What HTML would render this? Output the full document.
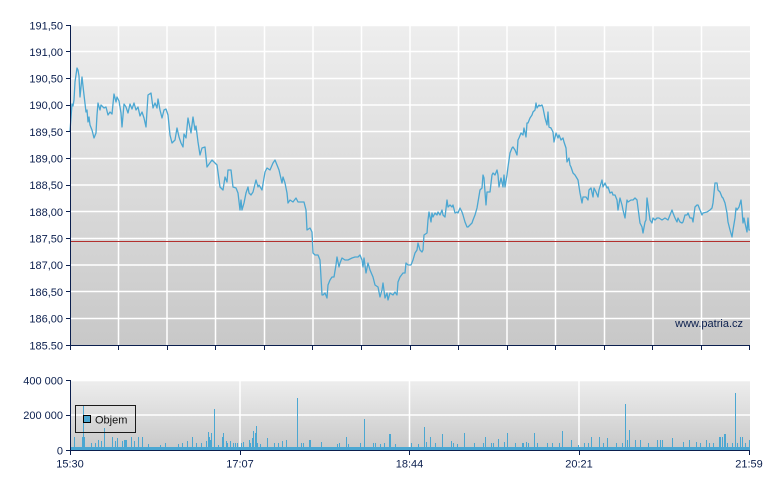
<!DOCTYPE html>
<html><head><meta charset="utf-8">
<style>
html,body{margin:0;padding:0;background:#fff;}
svg{display:block;}
text{font-family:"Liberation Sans",Arial,sans-serif;fill:#0b1f4e;}
</style></head><body>
<svg width="780" height="490" viewBox="0 0 780 490" xmlns="http://www.w3.org/2000/svg">
<defs>
<linearGradient id="g1" x1="0" y1="0" x2="0" y2="1">
<stop offset="0" stop-color="#eeeeee"/><stop offset="1" stop-color="#c8c8c8"/>
</linearGradient>
<linearGradient id="g2" x1="0" y1="0" x2="0" y2="1">
<stop offset="0" stop-color="#eeeeee"/><stop offset="1" stop-color="#c9c9c9"/>
</linearGradient>
</defs>
<!-- main plot -->
<rect x="70" y="25" width="680" height="320" fill="url(#g1)"/>
<g stroke="#ffffff" stroke-width="1.5">
<path d="M70 25.5H750M70 51.5H750M70 78.5H750M70 105H750M70 131.5H750M70 158.5H750M70 185H750M70 211.5H750M70 238.5H750M70 265H750M70 291.5H750M70 318.5H750"/>
<path d="M118.5 25V345M167 25V345M215.5 25V345M264.5 25V345M313 25V345M361.5 25V345M410 25V345M458.5 25V345M507 25V345M555.5 25V345M604.5 25V345M653 25V345M701.5 25V345"/>
</g>
<line x1="70" y1="241.5" x2="750" y2="241.5" stroke="#b3302e" stroke-width="1" shape-rendering="crispEdges"/>
<polyline fill="none" stroke="#4ba7d2" stroke-width="1.3" stroke-linejoin="round" points="70,131 72,104 73,106 74,100 75,82 76,75 77,68 78,70 79,76 80,97 82,77 84,95 86,112 87,110 88,122 89,117 90,125 92,130 94,138 96,133 97,115 98,103 100,110 101,105 104,108 106,107 108,115 110,112 112,114 114,94 116,102 117,97 119,101 121,113 122,127 124,104 126,107 128,113 130,104 132,109 134,103 136,110 138,107 140,116 142,112 144,118 146,127 148,95 151,93 153,108 155,103 157,108 158,99 160,110 162,118 164,110 166,109 168,115 170,135 172,143 175,140 177,128 179,137 181,143 183,147 184,134 186,138 188,118 190,128 191,133 193,117 195,130 196,126 198,142 200,155 202,148 205,147 207,167 212,160 217,165 220,187 223,190 225,177 227,182 228,170 231,170 233,187 236,188 238,193 240,210 241,200 242,210 244,203 246,193 248,187 249,193 251,195 253,192 256,180 258,187 259,185 262,190 265,172 267,168 270,170 273,163 275,160 277,165 279,170 282,183 283,177 285,183 287,193 288,203 290,200 293,202 296,198 298,202 302,202 304,202 306,210 307,230 310,228 312,232 313,253 315,255 318,255 320,260 322,295 323,295 325,293 327,298 328,285 330,280 332,277 334,277 336,265 337,257 339,267 340,263 342,258 345,260 348,260 352,258 355,257 358,257 360,255 362,260 363,267 364,258 366,273 368,263 370,270 373,277 375,285 378,287 380,297 382,290 383,283 385,298 387,293 388,300 390,293 393,295 395,292 397,295 398,282 400,277 403,273 405,273 406,263 408,265 411,265 413,260 415,253 417,250 418,243 420,250 422,252 423,250 424,235 427,233 428,220 429,212 431,222 432,213 433,217 435,213 437,215 438,212 440,215 442,210 443,215 445,217 447,200 448,207 450,205 452,207 453,205 455,213 457,212 458,213 460,208 462,212 463,215 465,222 467,227 468,227 470,225 472,223 473,220 475,215 477,208 478,202 480,190 482,188 483,175 484,178 485,192 486,205 487,192 490,192 492,175 493,173 495,175 497,170 498,175 499,187 501,178 503,187 504,175 505,187 507,175 508,167 510,153 512,148 513,147 515,150 517,155 518,140 519,138 521,133 523,135 524,128 526,137 527,123 528,123 530,118 532,115 533,112 535,110 536,103 537,108 539,105 540,106 542,105 543,108 545,118 547,125 548,112 549,127 551,128 553,132 554,142 556,133 558,138 559,135 561,140 563,138 564,142 566,148 567,162 569,158 570,165 571,167 573,173 575,175 578,180 580,193 582,203 583,197 586,197 588,200 589,190 591,188 593,197 594,188 596,192 598,197 599,190 602,180 603,187 605,183 607,188 608,187 610,193 612,192 613,195 615,195 617,200 618,210 620,198 622,205 623,210 625,218 627,200 628,202 631,200 633,200 635,198 637,200 638,208 640,223 642,227 643,233 645,222 646,220 647,198 648,205 650,220 652,223 653,218 655,220 657,218 659,218 662,220 665,218 668,220 670,215 672,210 673,213 675,218 677,222 678,218 680,222 682,223 683,222 685,215 687,215 688,213 690,218 692,218 693,222 695,207 697,205 698,205 700,210 702,215 703,213 707,212 710,210 712,208 713,203 715,183 717,183 718,190 720,192 722,197 723,198 725,203 727,213 728,222 730,230 732,237 733,230 735,218 736,208 737,210 739,207 741,200 742,210 743,223 744,218 745,223 747,232 748,218 749,230 750,230"/>
<!-- axes main -->
<g stroke="#0b1f4e" stroke-width="1" fill="none" shape-rendering="crispEdges">
<path d="M70.5 25V345.5H750"/>
<path d="M66 25.5H70M66 51.5H70M66 78.5H70M66 105.5H70M66 131.5H70M66 158.5H70M66 185.5H70M66 211.5H70M66 238.5H70M66 265.5H70M66 291.5H70M66 318.5H70M66 345.5H70"/>
<path d="M70.5 345V350M118.5 345V350M167.5 345V350M215.5 345V350M264.5 345V350M312.5 345V350M361.5 345V350M410.5 345V350M458.5 345V350M507.5 345V350M555.5 345V350M604.5 345V350M652.5 345V350M701.5 345V350M749.5 345V350"/>
</g>
<g font-size="11" text-anchor="end">
<text x="63" y="29.5">191,50</text>
<text x="63" y="56">191,00</text>
<text x="63" y="82.5">190,50</text>
<text x="63" y="109">190,00</text>
<text x="63" y="136">189,50</text>
<text x="63" y="162.5">189,00</text>
<text x="63" y="189">188,50</text>
<text x="63" y="216">188,00</text>
<text x="63" y="242.5">187,50</text>
<text x="63" y="269">187,00</text>
<text x="63" y="296">186,50</text>
<text x="63" y="322.5">186,00</text>
<text x="63" y="349.5">185.50</text>
</g>
<text x="743" y="327" font-size="11" text-anchor="end">www.patria.cz</text>

<!-- volume plot -->
<rect x="70" y="380" width="680" height="70" fill="url(#g2)"/>
<g stroke="#ffffff" stroke-width="1.5">
<path d="M70 380.5H750M70 415H750M240 380V450M409.5 380V450M579 380V450"/>
</g>
<rect x="70" y="447" width="680" height="3" fill="#4ba7d2"/>
<path stroke="#4ba7d2" stroke-width="1" fill="none" shape-rendering="crispEdges" d="M74.5 450V437M82.5 450V437M83.5 450V405M84.5 450V437M91.5 450V443M95.5 450V443M98.5 450V440M101.5 450V441M104.5 450V428M112.5 450V437M115.5 450V441M117.5 450V438M122.5 450V441M124.5 450V440M125.5 450V440M126.5 450V440M131.5 450V437M134.5 450V441M138.5 450V437M142.5 450V437M148.5 450V444M160.5 450V445M165.5 450V443M178.5 450V444M182.5 450V443M187.5 450V441M192.5 450V437M196.5 450V443M201.5 450V443M206.5 450V441M208.5 450V432M210.5 450V440M209.5 450V437M211.5 450V433M214.5 450V409M218.5 450V445M222.5 450V437M223.5 450V433M226.5 450V441M227.5 450V443M230.5 450V441M233.5 450V443M235.5 450V443M237.5 450V443M241.5 450V443M243.5 450V442M249.5 450V440M250.5 450V443M252.5 450V438M253.5 450V431M255.5 450V433M256.5 450V426M257.5 450V443M260.5 450V444M267.5 450V438M274.5 450V443M278.5 450V443M282.5 450V441M286.5 450V440M297.5 450V398M301.5 450V443M303.5 450V443M309.5 450V440M310.5 450V440M321.5 450V442M337.5 450V444M339.5 450V443M346.5 450V437M348.5 450V444M360.5 450V443M364.5 450V419M373.5 450V443M375.5 450V443M380.5 450V444M384.5 450V443M389.5 450V434M390.5 450V434M395.5 450V444M411.5 450V443M418.5 450V444M424.5 450V427M426.5 450V442M430.5 450V437M435.5 450V443M442.5 450V434M451.5 450V441M453.5 450V443M457.5 450V444M464.5 450V433M474.5 450V443M483.5 450V443M485.5 450V437M491.5 450V443M493.5 450V443M498.5 450V439M504.5 450V442M507.5 450V433M515.5 450V443M522.5 450V443M523.5 450V443M526.5 450V442M528.5 450V443M534.5 450V433M537.5 450V443M547.5 450V443M552.5 450V443M559.5 450V443M562.5 450V431M571.5 450V440M578.5 450V445M584.5 450V443M588.5 450V443M591.5 450V437M599.5 450V437M603.5 450V443M607.5 450V438M616.5 450V443M622.5 450V443M625.5 450V404M627.5 450V440M629.5 450V430M635.5 450V440M640.5 450V440M648.5 450V443M657.5 450V440M660.5 450V440M662.5 450V440M672.5 450V438M683.5 450V442M689.5 450V440M696.5 450V442M700.5 450V443M706.5 450V440M709.5 450V443M713.5 450V443M719.5 450V437M720.5 450V437M722.5 450V437M724.5 450V434M725.5 450V434M727.5 450V443M732.5 450V443M735.5 450V393M737.5 450V443M740.5 450V437M742.5 450V437M745.5 450V443M749.5 450V440"/>
<!-- legend -->
<rect x="75.5" y="405.5" width="60" height="27" fill="none" stroke="#1a1a1a" stroke-width="1"/>
<rect x="83.5" y="415.5" width="7" height="7" fill="#4ba7d2" stroke="#000" stroke-width="1"/>
<text x="95" y="423.5" font-size="11" style="fill:#111">Objem</text>
<!-- axes volume -->
<g stroke="#0b1f4e" stroke-width="1" fill="none" shape-rendering="crispEdges">
<path d="M70.5 380V450.5H750"/>
<path d="M66 380.5H70M66 415.5H70M66 450.5H70"/>
<path d="M70.5 450V455M240.5 450V455M409.5 450V455M579.5 450V455M749.5 450V455"/>
</g>
<g font-size="11" text-anchor="end">
<text x="63" y="384.5">400 000</text>
<text x="63" y="419">200 000</text>
<text x="63" y="454.5">0</text>
</g>
<g font-size="11" text-anchor="middle">
<text x="70" y="467.5">15:30</text>
<text x="240" y="467.5">17:07</text>
<text x="409.5" y="467.5">18:44</text>
<text x="579" y="467.5">20:21</text>
<text x="749" y="467.5">21:59</text>
</g>
</svg>
</body></html>
